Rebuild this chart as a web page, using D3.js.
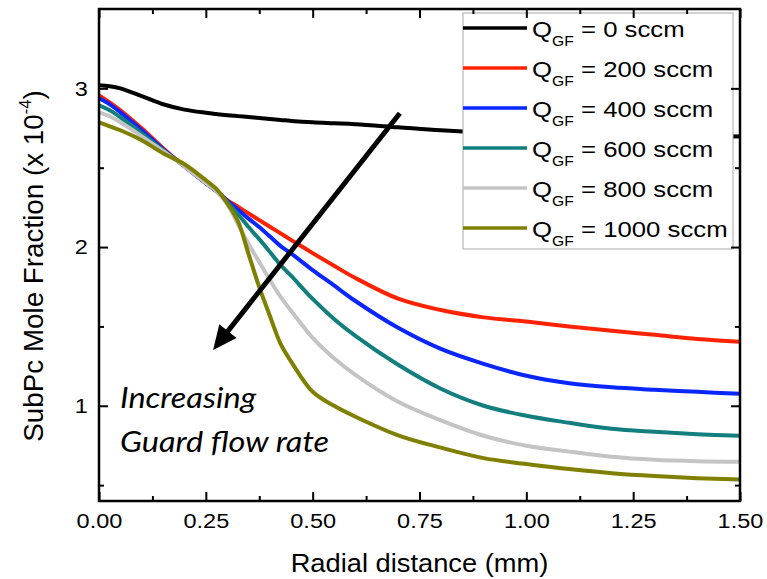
<!DOCTYPE html>
<html><head><meta charset="utf-8">
<script src="https://cdn.jsdelivr.net/npm/d3@7"></script>
<style>body{margin:0;background:#fff}</style>
</head><body><svg id="c" width="767" height="579"></svg>
<script>
// ---------- data ----------
const radial = [0,0.025,0.05,0.1,0.15,0.2,0.25,0.275,0.3,0.325,0.35,0.375,0.4,0.425,0.45,0.5,0.55,0.6,0.7,0.8,0.9,1.0,1.1,1.2,1.3,1.4,1.5];
const q0    = [3.019,3.013,3.0,2.951,2.90,2.866,2.846,2.838,2.831,2.825,2.819,2.813,2.807,2.801,2.795,2.786,2.78,2.774,2.755,2.736,2.723,2.717,2.71,2.704,2.70,2.698,2.697];
const q200  = [2.956,2.912,2.862,2.748,2.623,2.509,2.403,2.352,2.296,2.254,2.212,2.17,2.128,2.086,2.044,1.962,1.882,1.805,1.675,1.603,1.557,1.531,1.50,1.472,1.447,1.421,1.403];
const q400  = [2.937,2.899,2.849,2.736,2.616,2.509,2.403,2.352,2.292,2.236,2.179,2.126,2.066,2.006,1.959,1.855,1.758,1.66,1.491,1.358,1.264,1.189,1.142,1.116,1.101,1.088,1.075];
const q600  = [2.893,2.862,2.818,2.717,2.61,2.509,2.403,2.352,2.283,2.208,2.126,2.05,1.969,1.887,1.818,1.673,1.547,1.44,1.258,1.107,1.0,0.937,0.893,0.855,0.836,0.821,0.811];
const q800  = [2.849,2.824,2.786,2.698,2.604,2.509,2.403,2.352,2.27,2.145,2.019,1.906,1.792,1.686,1.597,1.428,1.30,1.195,1.025,0.908,0.811,0.748,0.711,0.679,0.66,0.651,0.648];
const q1000 = [2.786,2.761,2.736,2.673,2.591,2.522,2.421,2.365,2.277,2.164,1.956,1.748,1.566,1.39,1.277,1.088,1.0,0.931,0.814,0.736,0.67,0.633,0.601,0.575,0.557,0.544,0.535];
const flowRates = ["0","200","400","600","800","1000"];
const seriesValues = [q0,q200,q400,q600,q800,q1000];
const seriesColors = ["#000000","#ff2200","#0a26ff","#127e7e","#c4c4c4","#7f7f00"];
const xMajorTicks = [0,0.25,0.5,0.75,1.0,1.25,1.5];
const xMinorTicks = [0.125,0.375,0.625,0.875,1.125,1.375];
const yMajorTicks = [1,2,3];
const yMinorTicks = [0.5,1.5,2.5];
const arrowFrom = [0.704,2.843];
const arrowTo = [0.267,1.352];
const noteLines = ["Increasing","Guard flow rate"];
const notePos = [[0.049,0.987],[0.049,0.711]];

// ---------- chart ----------
const svg = d3.select("#c");
const L=99, R=740, T=9, B=501;
const x = d3.scaleLinear().domain([0,1.5]).range([L,R]);
const y = d3.scaleLinear().domain([0.4,3.5]).range([B,T]);
const FONT = "'Liberation Sans', Arial, sans-serif";

svg.append("defs").append("clipPath").attr("id","clip")
  .append("rect").attr("x",L).attr("y",T).attr("width",R-L).attr("height",B-T);

// curves
const line = d3.line().x(d=>x(d[0])).y(d=>y(d[1])).curve(d3.curveCatmullRom.alpha(0.5));
const gCurves = svg.append("g").attr("clip-path","url(#clip)");
seriesValues.forEach((vals,i)=>{
  gCurves.append("path")
    .datum(radial.map((r,j)=>[r,vals[j]]))
    .attr("d",line).attr("fill","none")
    .attr("stroke",seriesColors[i]).attr("stroke-width",4)
    .attr("stroke-linejoin","round").attr("stroke-linecap","butt");
});

// legend
const lg = svg.append("g");
lg.append("rect").attr("x",463).attr("y",13).attr("width",270).attr("height",236)
  .attr("fill","#fff").attr("stroke","#a8a8a8").attr("stroke-width",1);
flowRates.forEach((f,i)=>{
  const ry = 28 + i*40;
  lg.append("line").attr("x1",463).attr("x2",527).attr("y1",ry).attr("y2",ry)
    .attr("stroke",seriesColors[i]).attr("stroke-width",3.5);
  const t = lg.append("text").attr("transform",`translate(532,${ry+9}) scale(1.12,1)`)
    .attr("font-family",FONT).attr("font-size",23).attr("fill","#000");
  t.append("tspan").text("Q");
  t.append("tspan").attr("font-size",14).attr("dy",9).text("GF");
  t.append("tspan").attr("dy",-9).text(" = " + f + " sccm");
});

// arrow
(function(){
  const x1=x(arrowFrom[0]), y1=y(arrowFrom[1]), x2=x(arrowTo[0]), y2=y(arrowTo[1]);
  const dx=x2-x1, dy=y2-y1, len=Math.hypot(dx,dy), ux=dx/len, uy=dy/len;
  const hl=24, hw=11;
  const bx=x2-ux*hl, by=y2-uy*hl;
  svg.append("line").attr("x1",x1).attr("y1",y1).attr("x2",bx+ux*2).attr("y2",by+uy*2)
    .attr("stroke","#000").attr("stroke-width",5);
  svg.append("path").attr("d",`M${x2},${y2}L${bx-uy*hw},${by+ux*hw}L${bx+uy*hw},${by-ux*hw}Z`)
    .attr("fill","#000");
})();

// note
noteLines.forEach((s,i)=>{
  svg.append("text").attr("transform",`translate(${x(notePos[i][0])},${y(notePos[i][1])}) scale(1.12,1)`)
    .attr("font-family","Lato, 'Open Sans', sans-serif").attr("font-style","italic")
    .attr("font-size",29).attr("fill","#000").text(s);
});

// axes
function styleAxis(g){
  g.select(".domain").remove();
  g.selectAll(".tick line").attr("stroke","#000").attr("stroke-width",2);
  g.selectAll(".tick text").attr("font-family",FONT).attr("font-size",21).attr("fill","#000")
    .attr("transform","scale(1.12,1)");
}
const gb = svg.append("g").attr("transform",`translate(0,${B})`)
  .call(d3.axisBottom(x).tickValues(xMajorTicks).tickSize(-9).tickPadding(12).tickFormat(d3.format(".2f")));
styleAxis(gb);
const gbm = svg.append("g").attr("transform",`translate(0,${B})`)
  .call(d3.axisBottom(x).tickValues(xMinorTicks).tickSize(-5).tickFormat(""));
styleAxis(gbm);
const gt = svg.append("g").attr("transform",`translate(0,${T})`)
  .call(d3.axisTop(x).tickValues(xMajorTicks).tickSize(-9).tickFormat(""));
styleAxis(gt);
const gtm = svg.append("g").attr("transform",`translate(0,${T})`)
  .call(d3.axisTop(x).tickValues(xMinorTicks).tickSize(-5).tickFormat(""));
styleAxis(gtm);
const gl = svg.append("g").attr("transform",`translate(${L},0)`)
  .call(d3.axisLeft(y).tickValues(yMajorTicks).tickSize(-9).tickPadding(10).tickFormat(d3.format("d")));
styleAxis(gl);
const glm = svg.append("g").attr("transform",`translate(${L},0)`)
  .call(d3.axisLeft(y).tickValues(yMinorTicks).tickSize(-5).tickFormat(""));
styleAxis(glm);
const gr = svg.append("g").attr("transform",`translate(${R},0)`)
  .call(d3.axisRight(y).tickValues(yMajorTicks).tickSize(-9).tickFormat(""));
styleAxis(gr);
const grm = svg.append("g").attr("transform",`translate(${R},0)`)
  .call(d3.axisRight(y).tickValues(yMinorTicks).tickSize(-5).tickFormat(""));
styleAxis(grm);

// frame
svg.append("rect").attr("x",L).attr("y",T).attr("width",R-L).attr("height",B-T)
  .attr("fill","none").attr("stroke","#000").attr("stroke-width",2.5);

// axis titles
svg.append("text").attr("transform",`translate(${(L+R)/2},572) scale(1.05,1)`)
  .attr("text-anchor","middle").attr("font-family",FONT).attr("font-size",26).attr("fill","#000")
  .text("Radial distance (mm)");
const yt = svg.append("text").attr("transform",`translate(43,${(T+B)/2+11}) rotate(-90) scale(1.03,1)`)
  .attr("text-anchor","middle").attr("font-family",FONT).attr("font-size",27).attr("fill","#000");
yt.append("tspan").text("SubPc Mole Fraction (x 10");
yt.append("tspan").attr("font-size",16).attr("dy",-12).text("-4");
yt.append("tspan").attr("dy",12).text(")");
</script></body></html>
